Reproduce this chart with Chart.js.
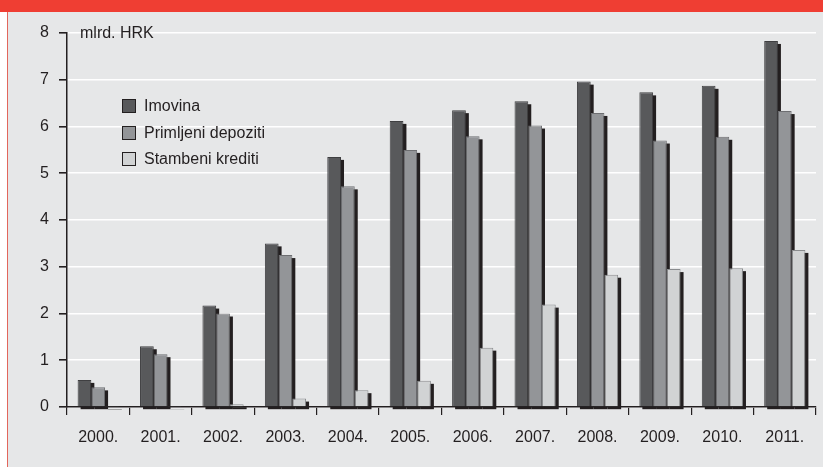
<!DOCTYPE html>
<html>
<head>
<meta charset="utf-8">
<script src="https://cdn.jsdelivr.net/npm/chart.js@4.4.1/dist/chart.umd.min.js"></script>
<style>
body { margin:0; background:#fff; font-family:"Liberation Sans", Arial, sans-serif; color:#231f20; }
#wrap { position:relative; width:823px; height:467px; overflow:hidden; }
#topband { position:absolute; left:0; top:0; width:823px; height:12px; background:#ef3e33; }
#panel { position:absolute; left:7px; top:12px; right:0; bottom:0; background:#e6e7e8; border-left:1px solid #e2665c; }
#chart { position:absolute; left:0; top:0; }
#unit { position:absolute; left:80px; top:24px; font-size:16px; line-height:18px; }
.leg { position:absolute; left:122px; height:14px; font-size:16px; line-height:14px; white-space:nowrap; }
.leg span { display:inline-block; width:12px; height:12px; border:1px solid #231f20; vertical-align:top; margin-right:8px; }
</style>
</head>
<body>
<div id="wrap">
  <div id="topband"></div>
  <div id="panel"></div>
  <canvas id="chart" width="823" height="467"></canvas>
  <div id="unit">mlrd. HRK</div>
  <div class="leg" style="top:99px"><span style="background:#58595b"></span>Imovina</div>
  <div class="leg" style="top:126px"><span style="background:#939598"></span>Primljeni depoziti</div>
  <div class="leg" style="top:152px"><span style="background:#d1d3d4"></span>Stambeni krediti</div>
</div>
<script>
// data (mlrd. HRK)
var years = ["2000.","2001.","2002.","2003.","2004.","2005.","2006.","2007.","2008.","2009.","2010.","2011."];
var imovina = [0.58, 1.30, 2.17, 3.50, 5.35, 6.12, 6.35, 6.54, 6.96, 6.73, 6.87, 7.83];
var depoziti = [0.42, 1.13, 2.00, 3.25, 4.72, 5.50, 5.79, 6.02, 6.29, 5.70, 5.78, 6.33];
var stambeni = [0.01, 0.02, 0.06, 0.18, 0.36, 0.56, 1.27, 2.19, 2.83, 2.95, 2.97, 3.36];
var yTicks = [0,1,2,3,4,5,6,7,8];

var ink = '#231f20';

// dark drop shadow behind every bar, drawn before the bars
var barShadow = {
  id: 'barShadow',
  beforeDatasetsDraw: function(chart) {
    var ctx = chart.ctx;
    ctx.save();
    ctx.fillStyle = ink;
    chart.data.datasets.forEach(function(ds, i) {
      chart.getDatasetMeta(i).data.forEach(function(bar) {
        var p = bar.getProps(['x','y','base','width'], true);
        ctx.fillRect(p.x - p.width/2 + 3, p.y + 3, p.width, p.base - p.y);
      });
    });
    ctx.restore();
  }
};

var ctx = document.getElementById("chart");
var myChart = new Chart(ctx, {
  type: 'bar',
  data: {
    labels: years,
    datasets: [
      { label: 'Imovina', data: imovina, backgroundColor: '#58595b', borderColor: '#3f3f41', borderWidth: 1 },
      { label: 'Primljeni depoziti', data: depoziti, backgroundColor: '#939598', borderColor: '#6d6e71', borderWidth: 1 },
      { label: 'Stambeni krediti', data: stambeni, backgroundColor: '#d1d3d4', borderColor: '#8a8c8e', borderWidth: 1 }
    ]
  },
  options: {
    responsive: false,
    animation: false,
    layout: { padding: { top: 33, right: 7, left: 0, bottom: 0 } },
    datasets: { bar: { categoryPercentage: 0.66, barPercentage: 1.0 } },
    plugins: { legend: { display: false }, tooltip: { enabled: false } },
    scales: {
      x: {
        grid: { drawOnChartArea: false, color: ink, tickColor: ink, tickLength: 8, lineWidth: 1.2 },
        border: { display: true, color: ink, width: 1.5 },
        ticks: { color: ink, font: { family: 'Liberation Sans', size: 16 }, padding: 13, maxRotation: 0 },
        afterFit: function(scale) { scale.height = 60; }
      },
      y: {
        min: 0, max: 8,
        afterBuildTicks: function(scale) { scale.ticks = yTicks.map(function(v) { return { value: v }; }); },
        grid: { color: '#ffffff', lineWidth: 1.6, tickColor: ink, tickLength: 8 },
        border: { display: true, color: ink, width: 1.5 },
        ticks: { color: ink, font: { family: 'Liberation Sans', size: 16 }, padding: 10 },
        afterFit: function(scale) { scale.width = 67; }
      }
    }
  },
  plugins: [barShadow]
});
</script>
</body>
</html>
